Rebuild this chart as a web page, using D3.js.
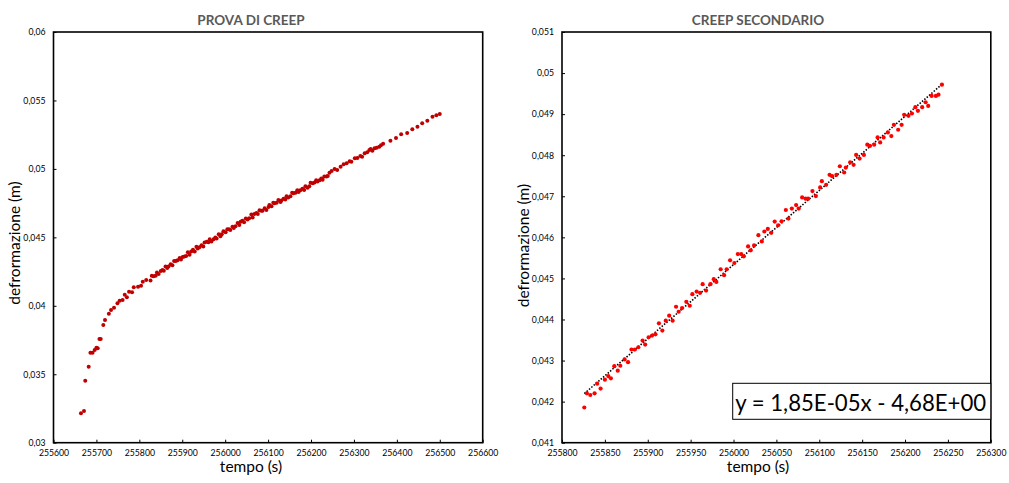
<!DOCTYPE html>
<html><head><meta charset="utf-8">
<script src="https://cdn.jsdelivr.net/npm/d3@7"></script>
<style>body{margin:0;background:#fff}svg{display:block}</style>
</head><body>
<svg id="c" width="1009" height="483"></svg>
<script>
// ---- data (time in s, deformation in m) ----
const primaryT = [255664,255671,255674,255682,255686,255691,255696,255700,255703,255707,255710,255716,255720,255729,255734,255741,255749,255754,255761,255766,255771,255776,255783,255787,255797,255804,255808,255816];
const primaryV = [0.03215,0.03232,0.03453,0.03555,0.03657,0.03657,0.03677,0.03694,0.03690,0.03757,0.03757,0.03860,0.03896,0.03942,0.03970,0.03986,0.04018,0.04037,0.04042,0.04081,0.04062,0.04103,0.04099,0.04135,0.04140,0.04147,0.04176,0.04188];

const secondaryT = [255826,255829,255833,255838,255841,255845,255850,255854,255857,255861,255865,255868,255873,255877,255881,255885,255889,255894,255897,255901,255905,255909,255913,255917,255921,255925,255929,255933,255936,255940,255945,255949,255952,255957,255961,255964,255968,255973,255977,255980,255985,255989,255992,255996,256001,256005,256009,256012,256017,256020,256024,256029,
256033,256036,256040,256044,256048,256052,256056,256061,256064,256068,256073,256076,256080,256084,256087,256092,256096,256101,256103,256108,256112,256115,256120,256124,256129,256131,256136,256140,256143,256147,256152,256156,256159,256164,256168,256171,256175,256180,256184,256187,256192,256196,256199,256204,256208,256212,256215,256220,256224,256227,256231,256236,256239,256243];
const secondaryV = [0.041857,0.042203,0.042162,0.042203,0.042438,0.042317,0.042535,0.042622,0.042567,0.042864,0.042753,0.042874,0.043027,0.042961,0.043269,0.043269,0.043324,0.043487,0.04339,0.043567,0.043608,0.04364,0.043906,0.043729,0.043971,0.044092,0.043971,0.04431,0.044189,0.044278,0.04443,0.044334,0.044617,0.04468,0.044649,0.04486,0.044705,0.04486,0.044981,0.044915,0.045223,0.045078,0.045223,0.045441,0.045375,0.045593,0.045593,0.045537,0.045779,0.045683,0.045804,0.046053,
0.045901,0.046143,0.046206,0.046109,0.046385,0.046295,0.046392,0.046666,0.046458,0.0467,0.046787,0.0467,0.046973,0.046942,0.046942,0.047126,0.047005,0.047215,0.047368,0.04728,0.047523,0.047489,0.047523,0.047731,0.047579,0.0477,0.047828,0.047765,0.048007,0.047918,0.048007,0.048257,0.048225,0.048257,0.048434,0.048312,0.048434,0.048554,0.048467,0.048741,0.04862,0.048741,0.048983,0.048959,0.049015,0.049169,0.04908,0.049169,0.04929,0.0492,0.049443,0.049443,0.049475,0.049717];

const lateT = [256248,256255,256261,256269,256276,256283,256290,256294,256302,256308,256315,256319,256325,256331,256336,256339,256343,256348,256353,256359,256363,256368,256385,256398,256410,256424,256436,256448,256459,256471,256483,256492,256500];
const lateV = [0.04985,0.05000,0.04992,0.05016,0.05034,0.05041,0.05056,0.05053,0.05077,0.05080,0.05094,0.05089,0.05114,0.05121,0.05138,0.05145,0.05133,0.05150,0.05155,0.05162,0.05172,0.05184,0.05206,0.05226,0.05253,0.05262,0.05289,0.05308,0.05333,0.05352,0.05381,0.05392,0.05401];

// ---- ticks ----
const leftXTicks = [255600,255700,255800,255900,256000,256100,256200,256300,256400,256500,256600];
const leftYTicks = [0.03,0.035,0.04,0.045,0.05,0.055,0.06];
const rightXTicks = [255800,255850,255900,255950,256000,256050,256100,256150,256200,256250,256300];
const rightYTicks = [0.041,0.042,0.043,0.044,0.045,0.046,0.047,0.048,0.049,0.05,0.051];

const titles = ["PROVA DI CREEP", "CREEP SECONDARIO"];
const xTitle = "tempo (s)";
const yTitle = "defrormazione (m)";
const eqText = "y = 1,85E-05x - 4,68E+00";

const fmt = v => String(+v.toFixed(6)).replace('.', ',');
const zip = (T, V) => T.map((t, i) => ({t, v: V[i]}));

const svg = d3.select('#c');
const FONT = "Lato, 'Open Sans', sans-serif";

function chart(o) {
  const g = svg.append('g');
  const x = d3.scaleLinear().domain([o.xTicks[0], o.xTicks[o.xTicks.length-1]]).range([o.x0, o.x1]);
  const y = d3.scaleLinear().domain([o.yTicks[0], o.yTicks[o.yTicks.length-1]]).range([o.y1, o.y0]);

  const ax = g.append('g').attr('transform', `translate(0,${o.y1})`)
    .call(d3.axisBottom(x).tickValues(o.xTicks).tickFormat(fmt).tickSizeInner(-3).tickSizeOuter(0).tickPadding(7.5));
  const ay = g.append('g').attr('transform', `translate(${o.x0},0)`)
    .call(d3.axisLeft(y).tickValues(o.yTicks).tickFormat(fmt).tickSizeInner(-3).tickSizeOuter(0).tickPadding(8));
  [ax, ay].forEach(a => {
    a.select('.domain').remove();
    a.selectAll('text').attr('font-family', FONT).attr('font-size', 8.7).attr('fill', '#000');
    a.selectAll('line').attr('stroke', '#000').attr('stroke-width', 1);
  });

  g.append('rect').attr('x', o.x0).attr('y', o.y0).attr('width', o.x1 - o.x0).attr('height', o.y1 - o.y0)
    .attr('fill', 'none').attr('stroke', '#000').attr('stroke-width', 1.6);

  g.append('text').attr('x', o.cx).attr('y', 25).attr('text-anchor', 'middle')
    .attr('font-family', FONT).attr('font-weight', 'bold').attr('font-size', 13.5).attr('fill', '#595959').text(o.title);
  g.append('text').attr('x', o.cx).attr('y', 471.5).attr('text-anchor', 'middle')
    .attr('font-family', FONT).attr('font-size', 15.5).attr('fill', '#000').text(xTitle);
  g.append('text').attr('transform', `translate(${o.ylx},${o.yly}) rotate(-90)`).attr('text-anchor', 'middle')
    .attr('dominant-baseline', 'central')
    .attr('font-family', FONT).attr('font-size', 15.5).attr('fill', '#000').text(yTitle);

  if (o.trend) {
    const d = o.data;
    const mx = d3.mean(d, p => p.t), my = d3.mean(d, p => p.v);
    const b = d3.sum(d, p => (p.t - mx) * (p.v - my)) / d3.sum(d, p => (p.t - mx) ** 2);
    const a = my - b * mx;
    const ext = d3.extent(d, p => p.t);
    g.append('path').attr('d', d3.line().x(t => x(t)).y(t => y(a + b * t))(ext))
      .attr('stroke', '#000').attr('stroke-width', 1.6).attr('stroke-dasharray', '1.5,1.6').attr('fill', 'none');
  }

  g.append('g').selectAll('circle').data(o.data).join('circle')
    .attr('cx', p => x(p.t)).attr('cy', p => y(p.v)).attr('r', o.r).attr('fill', o.color);

  if (o.eq) {
    const b = o.eq;
    g.append('rect').attr('x', b.x).attr('y', b.y).attr('width', b.w).attr('height', b.h)
      .attr('fill', '#fff').attr('stroke', '#000').attr('stroke-width', 1);
    const t = g.append('text').attr('x', b.x + 2.5).attr('y', b.y + b.h / 2 + 1).attr('dominant-baseline', 'central')
      .attr('font-family', FONT).attr('font-size', 20).attr('fill', '#000').text(eqText);
    const w = t.node().getComputedTextLength();
    t.attr('font-size', 20 * b.tw / w);
  }
}

chart({x0: 53.5, x1: 482.7, y0: 32, y1: 442.7, cx: 251, ylx: 14, yly: 243,
  xTicks: leftXTicks, yTicks: leftYTicks, title: titles[0], color: '#c00000', r: 2,
  data: zip(primaryT, primaryV).concat(zip(secondaryT, secondaryV), zip(lateT, lateV))});

chart({x0: 562, x1: 990.8, y0: 32, y1: 442.7, cx: 758, ylx: 523, yly: 245.5,
  xTicks: rightXTicks, yTicks: rightYTicks, title: titles[1], color: '#ff0000', r: 2.1, trend: true,
  data: zip(secondaryT, secondaryV),
  eq: {x: 732.7, y: 383.3, w: 258.1, h: 36, tw: 251}});
</script>
</body></html>
